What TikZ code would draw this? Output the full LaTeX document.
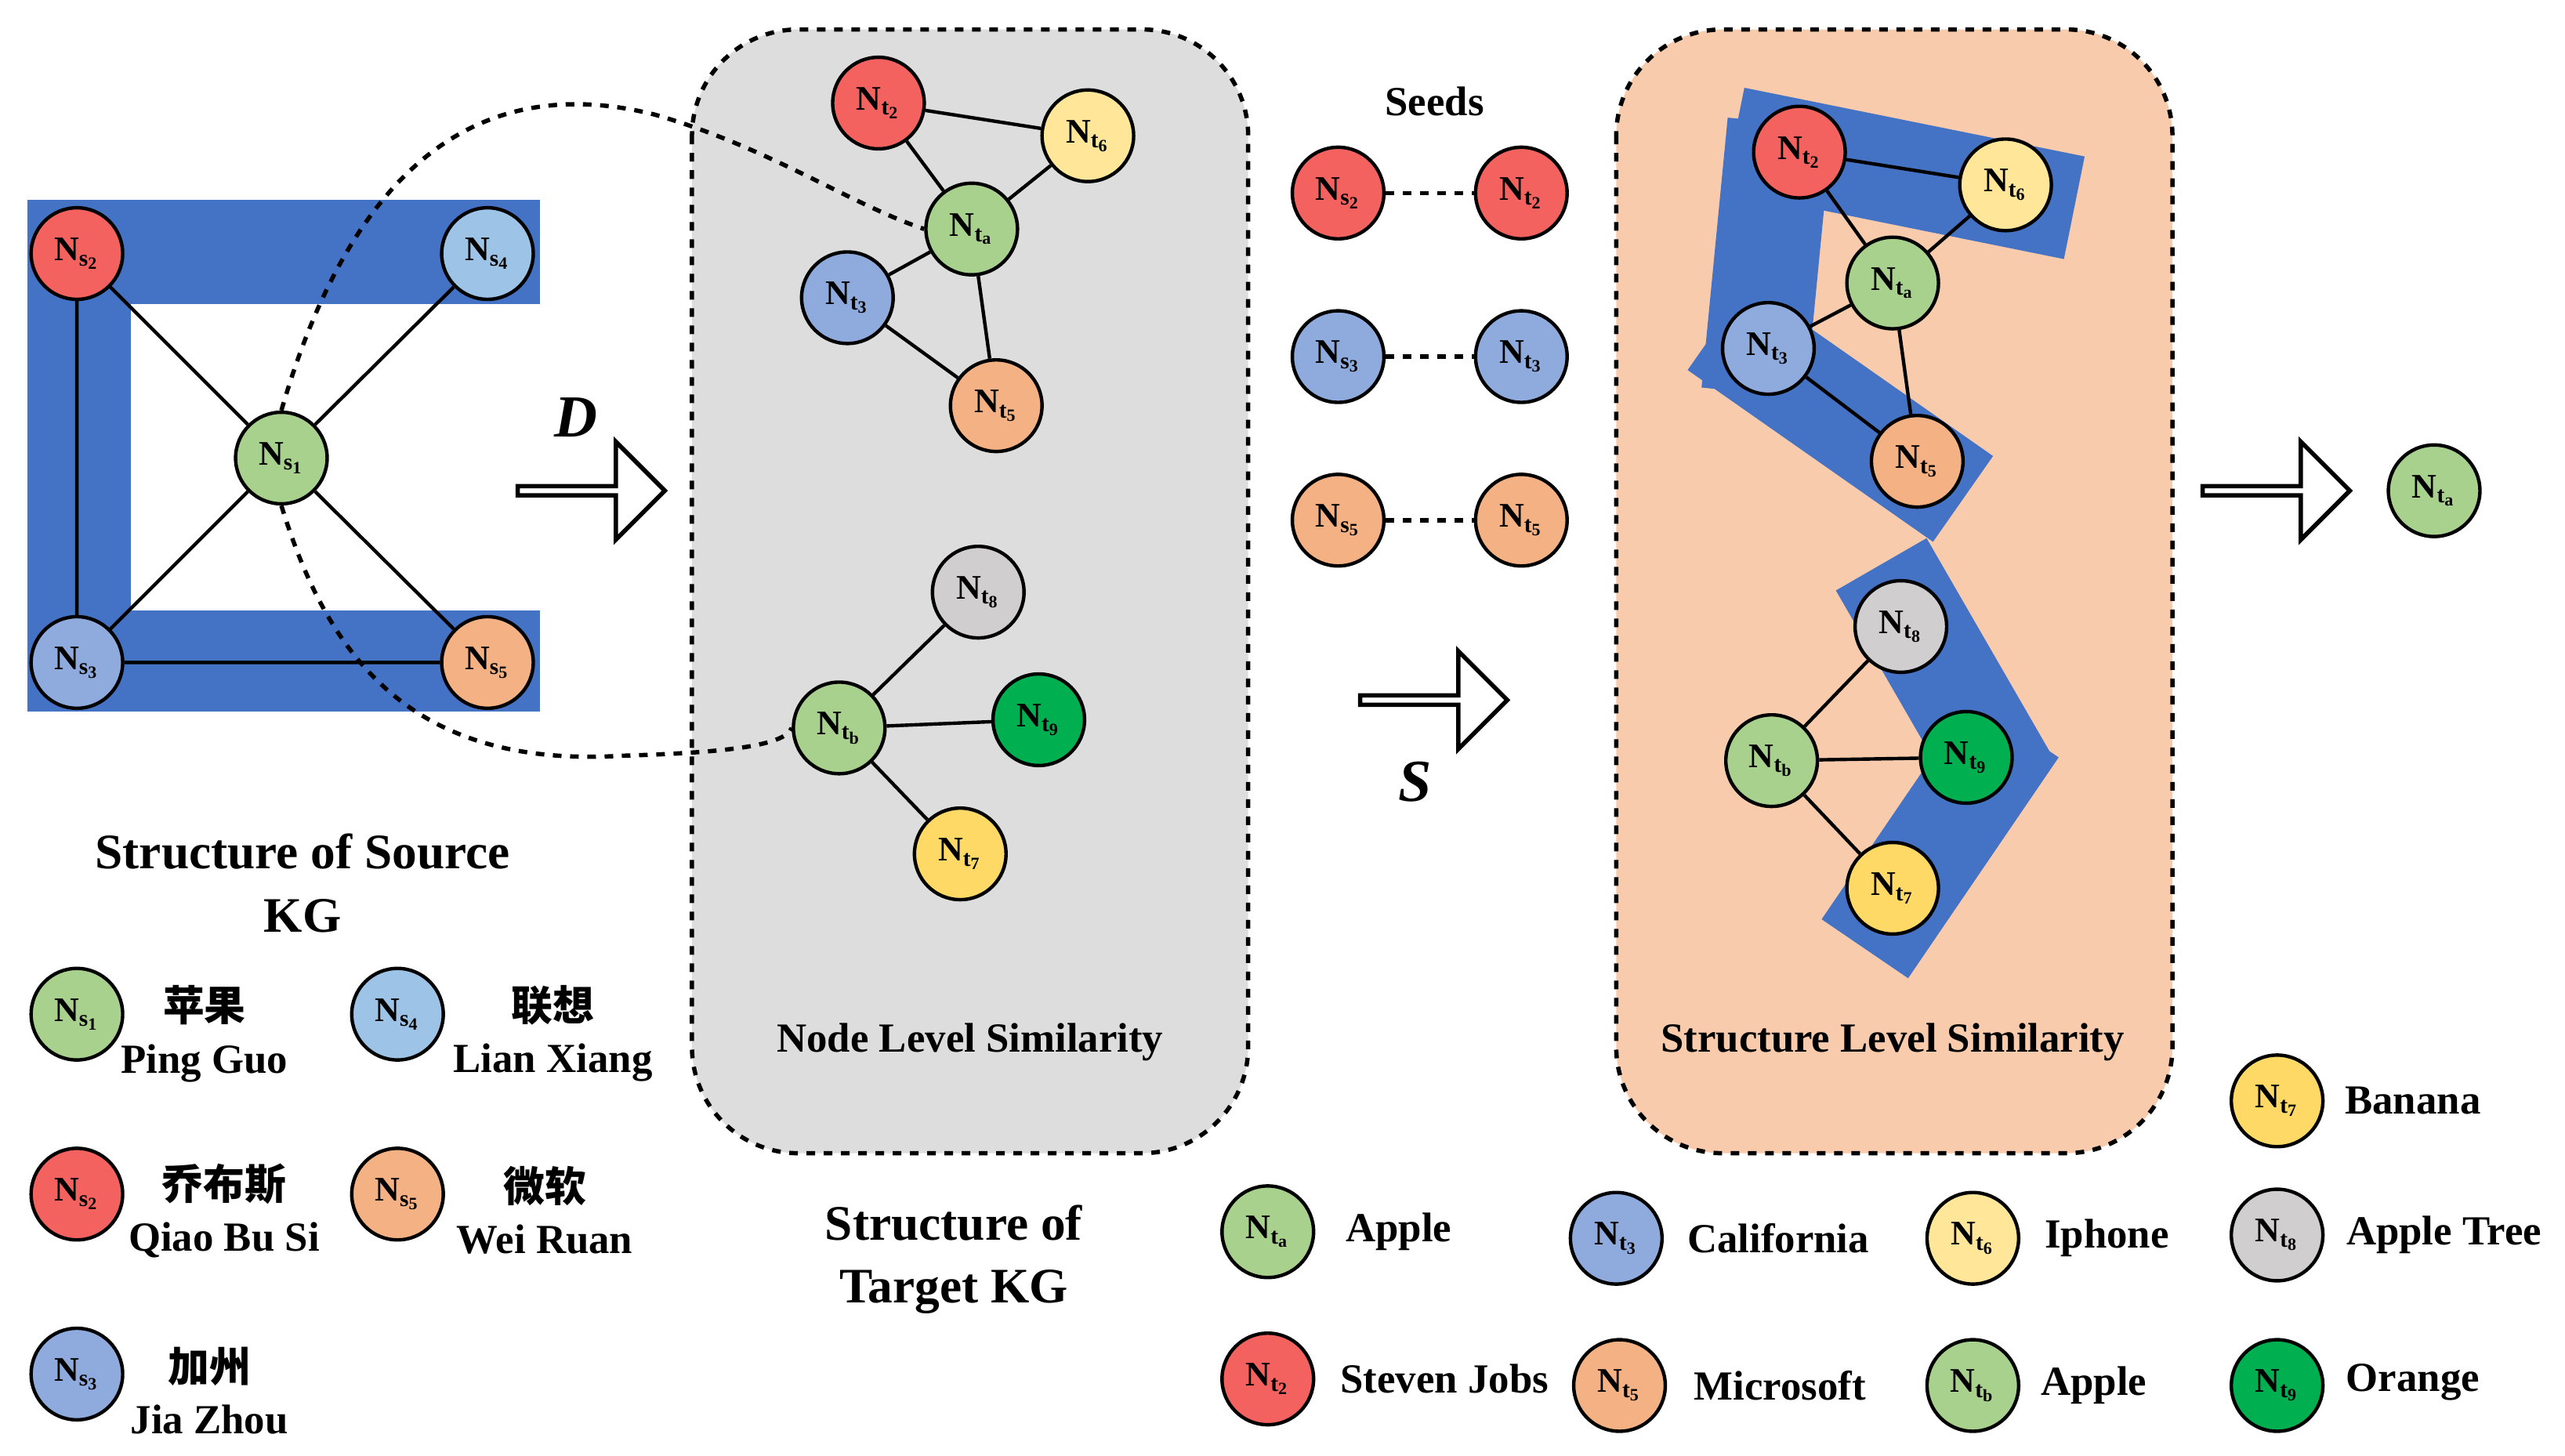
\documentclass[tikz,border=0pt]{standalone}
\usepackage{fontspec}
\setmainfont{Liberation Serif}
\newfontfamily\cjk{Noto Sans CJK SC}
\usetikzlibrary{shapes.arrows}
\newcommand{\nn}[2]{\textbf{N}$_{\mathbf{#1}_{\mathbf{#2}}}$}
\definecolor{cr}{HTML}{F4625F}
\definecolor{cg}{HTML}{A9D18E}
\definecolor{cb}{HTML}{8FAADC}
\definecolor{clb}{HTML}{9DC3E6}
\definecolor{co}{HTML}{F4B183}
\definecolor{cy}{HTML}{FFE699}
\definecolor{cy2}{HTML}{FFD966}
\definecolor{cgr}{HTML}{D0CECE}
\definecolor{cdg}{HTML}{00B050}
\definecolor{band}{HTML}{4472C4}
\definecolor{peach}{HTML}{F8CBAD}
\definecolor{boxg}{HTML}{DDDDDD}
\begin{document}
\begin{tikzpicture}[x=0.02cm,y=-0.02cm,
 nd/.style={circle,draw,line width=1.2pt,minimum size=1.12cm,inner sep=0pt,font=\large},
 ed/.style={line width=1.2pt},
 bd/.style={band,line width=1.28cm},
 lab/.style={font=\Large\bfseries},
 big/.style={font=\LARGE\bfseries,align=center},
 harrow/.style={single arrow,draw,line width=1.5pt,fill=white,minimum height=1.8cm,minimum width=1.2cm,single arrow head extend=0.25cm,inner sep=0pt,single arrow tip angle=90}]
\useasboundingbox (0,0) rectangle (1568,890);
% source KG bands
\fill[band] (17,122) rectangle (330,186);
\fill[band] (17,122) rectangle (80,435);
\fill[band] (17,373) rectangle (330,435);
\node[nd,fill=cr] (s2) at (47,155) {\nn{s}{2}};
\node[nd,fill=clb] (s4) at (298,155) {\nn{s}{4}};
\node[nd,fill=cg] (s1) at (172,280) {\nn{s}{1}};
\node[nd,fill=cb] (s3) at (47,405) {\nn{s}{3}};
\node[nd,fill=co] (s5) at (298,405) {\nn{s}{5}};
\draw[ed] (s2)--(s1) (s4)--(s1) (s3)--(s1) (s5)--(s1) (s2)--(s3) (s3)--(s5);
% gray box
\draw[dashed,line width=1.5pt,fill=boxg,rounded corners=1.3cm] (423,18) rectangle (763,705);
\node[nd,fill=cr] (a2) at (537,63) {\nn{t}{2}};
\node[nd,fill=cy] (a6) at (665,83) {\nn{t}{6}};
\node[nd,fill=cg] (aa) at (594,140) {\nn{t}{a}};
\node[nd,fill=cb] (a3) at (518,182) {\nn{t}{3}};
\node[nd,fill=co] (a5) at (609,248) {\nn{t}{5}};
\draw[ed] (a2)--(a6) (a2)--(aa) (a6)--(aa) (aa)--(a3) (aa)--(a5) (a3)--(a5);
\node[nd,fill=cgr] (a8) at (598,362) {\nn{t}{8}};
\node[nd,fill=cg] (ab) at (513,445) {\nn{t}{b}};
\node[nd,fill=cdg] (a9) at (635,440) {\nn{t}{9}};
\node[nd,fill=cy2] (a7) at (587,522) {\nn{t}{7}};
\draw[ed] (ab)--(a8) (ab)--(a9) (ab)--(a7);
\node[lab] (nls) at (593,637) {Node Level Similarity};
\node[big] (tkg) at (583,770) {Structure of\\Target KG};
% dashed curves
\draw[dashed,line width=1.5pt] (s1.north) .. controls (210,120) and (280,40) .. (400,70) .. controls (470,90) and (520,125) .. (aa.west);
\draw[dashed,line width=1.5pt] (s1.south) .. controls (200,400) and (250,470) .. (380,462) .. controls (450,460) and (480,455) .. (ab.west);
% arrow D
\node[harrow] (arD) at (360,300) {};
\node[font=\huge\bfseries\itshape] (D) at (352,255) {D};
% seeds
\node[lab] (seeds) at (877,62) {Seeds};
\node[nd,fill=cr] (p2) at (818,118) {\nn{s}{2}};
\node[nd,fill=cr] (q2) at (930,118) {\nn{t}{2}};
\node[nd,fill=cb] (p3) at (818,218) {\nn{s}{3}};
\node[nd,fill=cb] (q3) at (930,218) {\nn{t}{3}};
\node[nd,fill=co] (p5) at (818,318) {\nn{s}{5}};
\node[nd,fill=co] (q5) at (930,318) {\nn{t}{5}};
\draw[dashed,line width=1.5pt] (p2)--(q2) (p3)--(q3) (p5)--(q5);
\node[harrow] (arS) at (875,428) {};
\node[font=\huge\bfseries\itshape] (S) at (865,478) {S};
% orange box
\draw[dashed,line width=1.5pt,fill=peach,rounded corners=1.3cm] (988,18) rectangle (1328,705);
\draw[bd] (1060,85)--(1268,127);
\draw[bd] (1088,75)--(1072,240);
\draw[bd] (1050,200)--(1200,305);
\draw[bd] (1150,345)--(1225,475);
\draw[bd] (1232,445)--(1140,580);
\node[nd,fill=cr] (b2) at (1100,93) {\nn{t}{2}};
\node[nd,fill=cy] (b6) at (1226,113) {\nn{t}{6}};
\node[nd,fill=cg] (ba) at (1157,173) {\nn{t}{a}};
\node[nd,fill=cb] (b3) at (1081,213) {\nn{t}{3}};
\node[nd,fill=co] (b5) at (1172,282) {\nn{t}{5}};
\draw[ed] (b2)--(b6) (b2)--(ba) (b6)--(ba) (ba)--(b3) (ba)--(b5) (b3)--(b5);
\node[nd,fill=cgr] (b8) at (1162,383) {\nn{t}{8}};
\node[nd,fill=cg] (bb) at (1083,465) {\nn{t}{b}};
\node[nd,fill=cdg] (b9) at (1202,463) {\nn{t}{9}};
\node[nd,fill=cy2] (b7) at (1157,543) {\nn{t}{7}};
\draw[ed] (bb)--(b8) (bb)--(b9) (bb)--(b7);
\node[lab] (sls) at (1157,637) {Structure Level Similarity};
\node[harrow] (arR) at (1390,300) {};
\node[nd,fill=cg] (ra) at (1488,300) {\nn{t}{a}};
% source legend
\node[big] (skg) at (185,540) {Structure of Source\\KG};
\node[nd,fill=cg] (l1) at (47,620) {\nn{s}{1}};
\node[lab,align=center] (t1) at (125,632) {{\cjk 苹果}\\Ping Guo};
\node[nd,fill=clb] (l4) at (243,620) {\nn{s}{4}};
\node[lab,align=center] (t4) at (338,632) {{\cjk 联想}\\Lian Xiang};
\node[nd,fill=cr] (l2) at (47,730) {\nn{s}{2}};
\node[lab,align=center] (t2) at (137,740) {{\cjk 乔布斯}\\Qiao Bu Si};
\node[nd,fill=co] (l5) at (243,730) {\nn{s}{5}};
\node[lab,align=center] (t5) at (333,740) {{\cjk 微软}\\Wei Ruan};
\node[nd,fill=cb] (l3) at (47,840) {\nn{s}{3}};
\node[lab,align=center] (t3) at (128,850) {{\cjk 加州}\\Jia Zhou};
% target legend
\node[nd,fill=cg] (m1) at (775,753) {\nn{t}{a}};
\node[lab] at (855,753) {Apple};
\node[nd,fill=cb] (m2) at (988,757) {\nn{t}{3}};
\node[lab] at (1087,757) {California};
\node[nd,fill=cy] (m3) at (1206,757) {\nn{t}{6}};
\node[lab] at (1288,757) {Iphone};
\node[nd,fill=cy2] (m4) at (1392,673) {\nn{t}{7}};
\node[lab] at (1475,673) {Banana};
\node[nd,fill=cgr] (m5) at (1392,755) {\nn{t}{8}};
\node[lab] at (1494,755) {Apple Tree};
\node[nd,fill=cr] (m6) at (775,843) {\nn{t}{2}};
\node[lab] at (883,843) {Steven Jobs};
\node[nd,fill=co] (m7) at (990,847) {\nn{t}{5}};
\node[lab] at (1088,847) {Microsoft};
\node[nd,fill=cg] (m8) at (1206,847) {\nn{t}{b}};
\node[lab] at (1280,847) {Apple};
\node[nd,fill=cdg] (m9) at (1392,847) {\nn{t}{9}};
\node[lab] at (1475,845) {Orange};
\end{tikzpicture}
\end{document}
